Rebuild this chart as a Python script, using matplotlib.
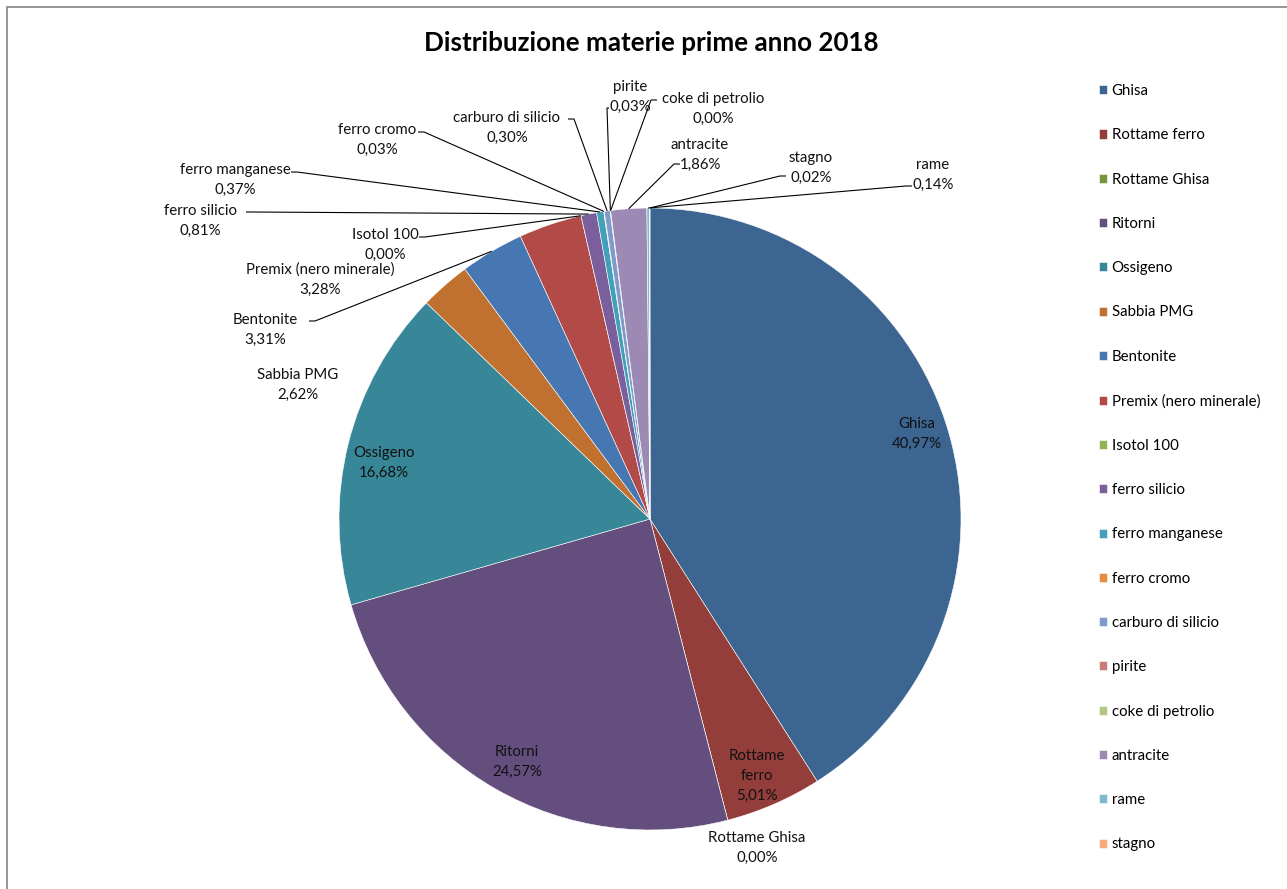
import numpy as np
import matplotlib
matplotlib.use("Agg")
import matplotlib.pyplot as plt
from matplotlib.patches import Rectangle

plt.rcParams["font.family"] = ["Lato", "DejaVu Sans"]

materials = [
    "Ghisa", "Rottame ferro", "Rottame Ghisa", "Ritorni", "Ossigeno",
    "Sabbia PMG", "Bentonite", "Premix (nero minerale)", "Isotol 100",
    "ferro silicio", "ferro manganese", "ferro cromo", "carburo di silicio",
    "pirite", "coke di petrolio", "antracite", "rame", "stagno",
]
shares = [40.97, 5.01, 0.00, 24.57, 16.68, 2.62, 3.31, 3.28, 0.00,
          0.81, 0.37, 0.03, 0.30, 0.03, 0.00, 1.86, 0.14, 0.02]
# labels as shown on the chart (Excel put them next to neighbouring slices)
label_texts = {
    "Ghisa": "Ghisa\n40,97%",
    "Rottame ferro": "Rottame\nferro\n5,01%",
    "Rottame Ghisa": "Rottame Ghisa\n0,00%",
    "Ritorni": "Ritorni\n24,57%",
    "Ossigeno": "Ossigeno\n16,68%",
    "Sabbia PMG": "Sabbia PMG\n2,62%",
    "Bentonite": "Bentonite\n3,31%",
    "Premix (nero minerale)": "Premix (nero minerale)\n3,28%",
    "Isotol 100": "Isotol 100\n0,00%",
    "ferro silicio": "ferro silicio\n0,81%",
    "ferro manganese": "ferro manganese\n0,37%",
    "ferro cromo": "ferro cromo\n0,03%",
    "carburo di silicio": "carburo di silicio\n0,30%",
    "pirite": "pirite\n0,03%",
    "coke di petrolio": "coke di petrolio\n0,00%",
    "antracite": "antracite\n1,86%",
    "rame": "rame\n0,14%",
    "stagno": "stagno\n0,02%",
}
colors = ["#3c6592", "#943e3b", "#789440", "#634e7e", "#388798",
          "#c0712f", "#4677b3", "#b24a47", "#93b357", "#7b5e9c",
          "#42a0b8", "#e98b3f", "#7e9bca", "#ca7c7a", "#afc883",
          "#9c8ab5", "#7db8cd", "#f9aa79"]

# label layout in pixels: text centre, leader anchor (None = no leader)
W, H = 1287, 889
CX, CY, R = 650, 519, 311
label_pos = {
    "Ghisa": ((917, 434), None),
    "Rottame ferro": ((757, 776), None),
    "Rottame Ghisa": ((757, 848), None),
    "Ritorni": ((517, 762), None),
    "Ossigeno": ((384, 463), None),
    "Sabbia PMG": ((298, 385), None),
    "Bentonite": ((265, 330), (309, 321)),
    "Premix (nero minerale)": ((320, 280), None),
    "Isotol 100": ((385, 245), (419, 237)),
    "ferro silicio": ((200, 221), (246, 212)),
    "ferro manganese": ((235, 180), (291, 172)),
    "ferro cromo": ((377, 140), (418, 132)),
    "carburo di silicio": ((507, 128), (568, 119)),
    "pirite": ((630, 97), (607, 108)),
    "coke di petrolio": ((713, 109), (657, 100)),
    "antracite": ((700, 155), (680, 164)),
    "stagno": ((811, 168), (786, 176)),
    "rame": ((933, 175), (912, 186)),
}


def px(x, y):
    return (x - CX) / R, (CY - y) / R


fig = plt.figure(figsize=(W / 100, H / 100), dpi=100)
ax = fig.add_axes([0, 0, 1, 1])
wedges, _ = ax.pie(shares, colors=colors, startangle=90, counterclock=False,
                   radius=1, wedgeprops=dict(edgecolor="white", linewidth=0.4))
ax.set_xlim(-CX / R, (W - CX) / R)
ax.set_ylim((CY - H) / R, CY / R)
ax.set_aspect("auto")
ax.axis("off")

for w, name in zip(wedges, materials):
    (tx, ty), anchor = label_pos[name]
    ax.text(*px(tx, ty), label_texts[name], ha="center", va="center",
            fontsize=10.8, linespacing=1.55, color="#111111")
    if anchor is None:
        continue
    mid = np.deg2rad((w.theta1 + w.theta2) / 2)
    ex, ey = np.cos(mid), np.sin(mid)
    ax0, ay0 = px(*anchor)
    stub = 6 / R * np.sign(ex - ax0)
    if name == "pirite":
        xs, ys = [ax0 + 2 / R, ax0, ex], [ay0, ay0, ey]
    else:
        xs, ys = [ax0, ax0 + stub, ex], [ay0, ay0, ey]
    ax.plot(xs, ys, color="black", linewidth=0.8, solid_capstyle="butt")

fig.text(651 / W, 1 - 43 / H, "Distribuzione materie prime anno 2018",
         ha="center", va="center", fontsize=18.7, fontweight="bold")

fig.legend(wedges, materials, loc="upper left",
           bbox_to_anchor=(1099 / W, 1 - 84 / H), frameon=False,
           fontsize=10.8, handlelength=0.55, handleheight=0.55,
           handletextpad=0.3, labelspacing=2.02, borderpad=0,
           borderaxespad=0)

fig.patches.append(Rectangle((7 / W, -0.1), 1.2, 1 - 7 / H + 0.1,
                             transform=fig.transFigure, fill=False,
                             edgecolor="#868686", linewidth=1.2))

fig.savefig("out.png", dpi=100)
